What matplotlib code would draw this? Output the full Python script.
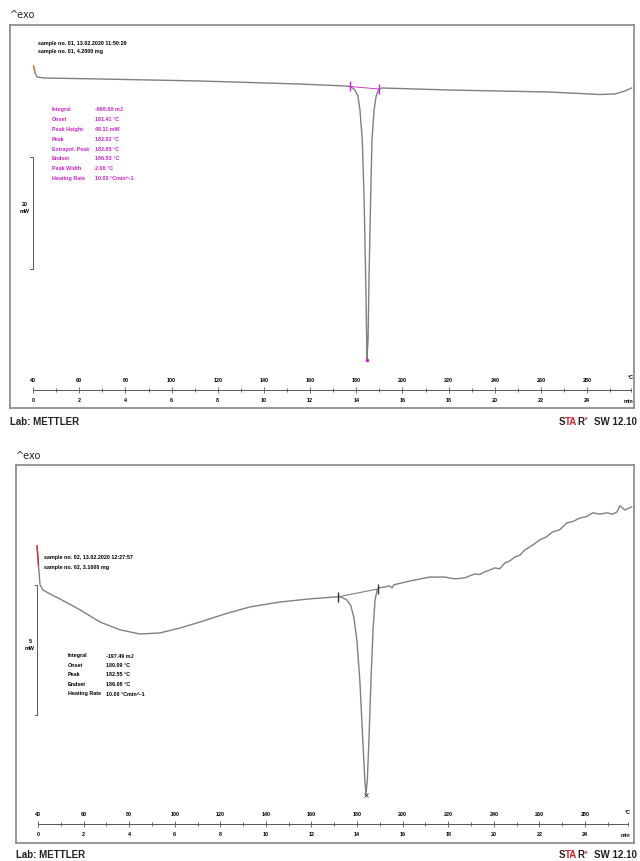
import matplotlib.pyplot as plt
from matplotlib.ticker import FixedLocator

# sample 01: temperature (°C) / heat flow (mW, relative)
t1 = [40.2, 40.9, 41.7, 45.2, 69.0, 112.3, 155.6, 175.1, 177.2,
      178.1, 179.4, 180.7, 181.6, 182.6, 183.4, 184.1, 184.5, 184.6,
      185.1, 185.5, 186.2, 186.8, 187.7, 188.6, 189.8, 191.1,
      198.9, 220.5, 242.2, 263.8, 276.8, 285.5, 292.0, 296.3, 299.3]
q1 = [1.6, 0.36, -0.36, -0.54, -0.71, -1.07, -1.61, -1.96, -2.05,
      -2.23, -2.68, -3.75, -6.25, -11.6, -22.3, -36.6, -47.3, -50.9,
      -47.3, -36.6, -22.3, -11.6, -6.25, -3.75, -2.5, -2.32,
      -2.41, -2.68, -2.86, -3.04, -3.3, -3.48, -3.39, -2.86, -2.32]
marks1_t = [177.2, 189.8]
marks1_q = [-2.05, -2.5]
tip1 = (184.6, -50.9)

# sample 02
t2 = [39.6, 40.2, 40.9, 42.2, 45.3, 49.6, 58.4, 67.2, 76.0, 84.7, 93.5,
      102.3, 111.1, 122.0, 133.0, 146.1, 159.3, 168.1, 171.6,
      173.3, 175.5, 177.3, 178.6, 179.9, 181.2, 182.5, 183.4, 183.9,
      184.5, 185.2, 186.1, 187.0, 187.9, 188.8, 189.6,
      194.4, 195.3, 196.1, 203.2, 211.9, 218.5, 222.9, 227.3, 229.5,
      231.7, 233.8, 236.0, 238.2, 240.4, 242.6, 244.8, 247.0, 249.2,
      251.4, 253.6, 256.9, 260.2, 263.0, 265.9, 268.9, 272.0, 274.8,
      277.7, 280.5, 283.4, 286.5, 289.6, 292.0, 294.0, 295.3, 297.5, 300.5]
q2 = [2.08, 1.35, 0.58, 0.38, 0.23, 0.04, -0.38, -0.85, -1.15, -1.31, -1.27,
      -1.08, -0.85, -0.54, -0.27, -0.08, 0.04, 0.10, 0.12,
      0.10, 0.0, -0.23, -0.69, -1.54, -3.08, -5.38, -6.92, -7.5,
      -6.92, -5.38, -3.08, -1.15, 0.0, 0.38, 0.46,
      0.54, 0.46, 0.58, 0.73, 0.88, 0.88, 0.81, 0.85, 0.93,
      1.0, 0.98, 1.08, 1.15, 1.23, 1.2, 1.42, 1.5, 1.65,
      1.72, 1.92, 2.1, 2.31, 2.42, 2.62, 2.7, 2.96, 3.02,
      3.15, 3.2, 3.35, 3.3, 3.35, 3.3, 3.38, 3.62, 3.46, 3.58]
marks2_t = [171.6, 189.1]
marks2_q = [0.12, 0.42]
tip2 = (183.9, -7.5)

ticks_c = list(range(40, 281, 20))
minor_c = list(range(50, 291, 20)) + [299]
ticks_min = list(range(0, 25, 2))

res1 = ["Integral", "Onset", "Peak Height", "Peak", "Extrapol. Peak",
        "Endset", "Peak Width", "Heating Rate"]
val1 = ["-868.60 mJ", "181.41 °C", "48.11 mW", "182.02 °C", "182.05 °C",
        "186.53 °C", "2.06 °C", "10.00 °Cmin^-1"]
res2 = ["Integral", "Onset", "Peak", "Endset", "Heating Rate"]
val2 = ["-197.49 mJ", "180.09 °C", "182.55 °C", "186.08 °C", "10.00 °Cmin^-1"]

W, H = 640, 861
FONT = ["Liberation Sans", "DejaVu Sans"]
SMALL = 3.9
GRAY = "#808080"
MAG = "#cc22cc"
RED = "#d0202a"
INK = "#222222"


def px(x, y):
    return x / W, 1 - y / H


def small(x, y, s, color="black", **kw):
    fig.text(*px(x, y), s, fontsize=SMALL, color=color, ha="left", va="center",
             family=FONT, fontweight="bold", **kw)


def footer(l, y):
    kw = dict(fontsize=7, fontweight="bold", va="center", family=FONT)
    fig.text(*px(l, y), "Lab: METTLER", ha="left", color=INK, **kw)
    fig.text(*px(637, y), "SW 12.10", ha="right", color=INK, **kw)
    # STARe logo pieces
    fig.text(*px(559, y), "S", ha="left", color=INK, **kw)
    fig.text(*px(564.6, y), "TA", ha="left", color=RED, **kw)
    fig.text(*px(577.4, y), "R", ha="left", color=INK, **kw)
    fig.text(*px(585, y - 3), "e", ha="left", va="center", color=RED,
             fontsize=3.3, fontweight="bold", family=FONT)


def panel(box, xlim, ylim, scale_pos, lab_y):
    l, t, r, b = box
    ax = fig.add_axes([l / W, 1 - b / H, (r - l) / W, (b - t) / H])
    ax.set_xlim(*xlim)
    ax.set_ylim(*ylim)
    ax.set_xticks([])
    ax.set_yticks([])
    for s in ax.spines.values():
        s.set_color("#909090")
        s.set_linewidth(1.3)
    # temperature scale above the line
    sc = ax.secondary_xaxis(scale_pos)
    sc.set_alignment("top")
    sc.set_xticks(ticks_c)
    sc.xaxis.set_minor_locator(FixedLocator(minor_c))
    sc.tick_params(which="major", direction="inout", length=5, width=0.6,
                   pad=2.5, labelsize=SMALL, colors="#555555", labelcolor="black")
    sc.tick_params(which="minor", direction="inout", length=3, width=0.6,
                   colors="#555555")
    sc.spines["top"].set_bounds(40, 299)
    sc.spines["top"].set_color("#555555")
    sc.spines["top"].set_linewidth(0.7)
    for lb in sc.get_xticklabels():
        lb.set_family(FONT)
        lb.set_fontweight("bold")
    # time scale below the line
    sm = ax.secondary_xaxis(scale_pos, functions=(lambda t: (t - 40) / 10,
                                                  lambda m: m * 10 + 40))
    sm.set_xticks(ticks_min)
    sm.tick_params(length=0, pad=5.5, labelsize=SMALL)
    sm.spines["bottom"].set_visible(False)
    for lb in sm.get_xticklabels():
        lb.set_family(FONT)
        lb.set_fontweight("bold")
    tr = ax.get_xaxis_transform()
    ax.text(300, scale_pos + 0.032, "°C", transform=tr, fontsize=SMALL,
            ha="right", va="center", family=FONT, fontweight="bold")
    ax.text(300, scale_pos - 0.03, "min", transform=tr, fontsize=SMALL,
            ha="right", va="center", family=FONT, fontweight="bold")
    footer(l, lab_y)
    return ax


fig = plt.figure(figsize=(6.4, 8.61), dpi=100)

# ---------------- sample 01 ----------------
ax1 = panel((10, 25, 634, 408), (30.0, 300.3), (-59.46, 8.93), 0.047, 422)
ax1.plot(t1, q1, color=GRAY, lw=1.0)
ax1.plot(t1[:2], q1[:2], color="#e08040", lw=1.0)
ax1.plot(marks1_t, marks1_q, color=MAG, lw=0.6)
ax1.plot(marks1_t, marks1_q, ls="none", marker="|", ms=7, mew=1.0, color=MAG)
ax1.plot(*tip1, marker="o", ms=1.5, color=MAG)
# 20 mW scale bar
ax1.plot([38.7, 40.0, 40.0, 38.7], [-14.6, -14.6, -34.6, -34.6], color="#555555", lw=0.7)
fig.text(*px(25, 208), "20\nmW", fontsize=SMALL, ha="center", va="center",
         family=FONT, fontweight="bold", linespacing=1.3)
fig.text(*px(10, 15), "^exo", fontsize=7, ha="left", va="center", color=INK)
small(38, 43, "sample no. 01, 13.02.2020 11:50:29")
small(38, 52, "sample no. 01, 4.2000 mg")
for i, (a, v) in enumerate(zip(res1, val1)):
    small(52, 109.5 + i * 9.9, a, color=MAG)
    small(95, 109.5 + i * 9.9, v, color=MAG)

# ---------------- sample 02 ----------------
ax2 = panel((16, 465, 634, 843), (30.35, 301.5), (-9.35, 5.19), 0.05, 855)
ax2.plot(t2, q2, color=GRAY, lw=1.0)
ax2.plot(t2[:2], q2[:2], color="#cc3333", lw=1.0)
ax2.plot(marks2_t, marks2_q, color=GRAY, lw=0.8)
ax2.plot(marks2_t, marks2_q, ls="none", marker="|", ms=7, mew=1.0, color="#333333")
ax2.plot(*tip2, marker="x", ms=3, mew=0.6, color="#333333")
# 5 mW scale bar
ax2.plot([38.5, 39.6, 39.6, 38.5], [0.58, 0.58, -4.42, -4.42], color="#555555", lw=0.7)
fig.text(*px(30, 645), "5\nmW", fontsize=SMALL, ha="center", va="center",
         family=FONT, fontweight="bold", linespacing=1.3)
fig.text(*px(16, 456), "^exo", fontsize=7, ha="left", va="center", color=INK)
small(44, 557, "sample no. 02, 13.02.2020 12:27:57")
small(44, 567, "sample no. 02, 3.1000 mg")
for i, (a, v) in enumerate(zip(res2, val2)):
    small(68, 656 + i * 9.5, a)
    small(106, 656 + i * 9.5, v)

fig.savefig("out.png", dpi=100)
